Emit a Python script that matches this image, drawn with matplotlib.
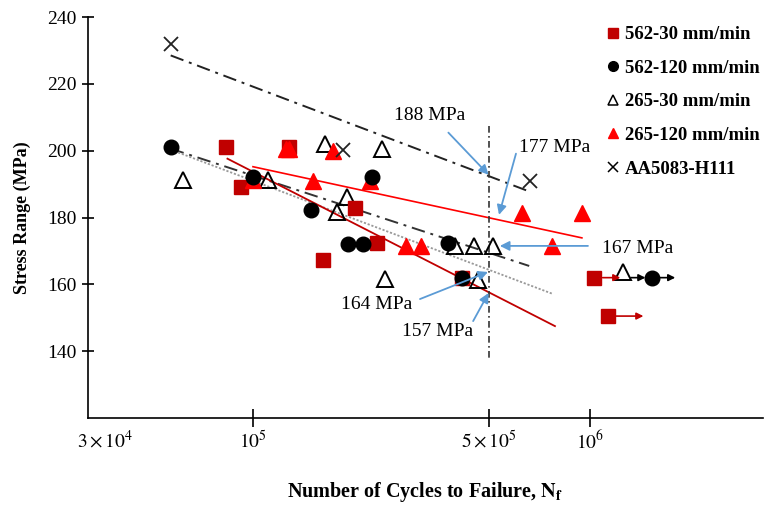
import matplotlib
matplotlib.use("Agg")
import matplotlib.pyplot as plt
import matplotlib.transforms as mtransforms
from matplotlib.lines import Line2D

plt.rcParams['font.family'] = ['Liberation Serif', 'DejaVu Serif']
plt.rcParams['mathtext.fontset'] = 'stix'

# --- data (cycles, stress range MPa) ---
n_562_30 = [8.3e4, 9.2e4, 1.28e5, 1.61e5, 2.01e5, 2.33e5, 4.17e5]
s_562_30 = [201, 189, 201, 167.3, 182.7, 172.4, 162]
n_562_120 = [5.7e4, 1.0e5, 1.49e5, 1.91e5, 2.12e5, 2.26e5, 3.8e5, 4.17e5]
s_562_120 = [201, 192.2, 182.3, 172.2, 172.2, 192, 172.4, 162]
n_265_30 = [6.2e4, 1.11e5, 1.64e5, 1.77e5, 1.9e5, 2.42e5, 2.46e5, 3.97e5, 4.53e5, 5.15e5, 4.66e5]
s_265_30 = [191.3, 191.3, 202, 181.5, 186, 200.6, 161.6, 171.5, 171.5, 171.5, 161.3]
n_265_120 = [1.0e5, 1.25e5, 1.28e5, 1.51e5, 1.73e5, 2.22e5, 2.84e5, 3.15e5, 6.28e5, 7.7e5, 9.46e5]
s_265_120 = [191.3, 200.4, 200.4, 191, 200, 191, 171.5, 171.5, 181.4, 171.5, 181.4]
n_aa = [5.7e4, 1.85e5, 6.64e5]
s_aa = [232, 200.3, 191]

# run-outs: start cycles, stress, arrow end cycles
ro_562_30_n = [1.03e6, 1.13e6]
ro_562_30_s = [162, 150.5]
ro_562_30_end = [1.23e6, 1.44e6]
ro_265_30_n = [1.25e6]
ro_265_30_s = [163.8]
ro_265_30_end = [1.46e6]
ro_562_120_n = [1.53e6]
ro_562_120_s = [162]
ro_562_120_end = [1.79e6]

# trend lines (end points)
fit_aa_n, fit_aa_s = [5.7e4, 6.6e5], [228.5, 187.8]
fit_562_120_n, fit_562_120_s = [5.7e4, 6.6e5], [200.6, 165.5]
fit_265_30_n, fit_265_30_s = [5.7e4, 7.77e5], [200.3, 157.1]
fit_562_30_n, fit_562_30_s = [8.4e4, 7.87e5], [197.6, 147.5]
fit_265_120_n, fit_265_120_s = [1.0e5, 9.46e5], [195.2, 173.9]

DARKRED = '#C00000'
RED = '#FF0000'
BLUE = '#5B9BD5'

fig = plt.figure(figsize=(7.72, 5.07), dpi=100)
ax = fig.add_axes([88 / 772, 89 / 507, 675 / 772, 401 / 507])
ax.set_xscale('log')
ax.set_xlim(3.24e4, 3.26e6)
ax.set_ylim(120, 240)

# trend lines
ax.plot(fit_aa_n, fit_aa_s, color='#222222', lw=1.4, ls=(0, (7, 3, 1.5, 3)))
ax.plot(fit_562_120_n, fit_562_120_s, color='#333333', lw=1.4, ls=(0, (7, 3, 1.5, 3)))
ax.plot(fit_265_30_n, fit_265_30_s, color='#999999', lw=1.3, ls=(0, (1.2, 1)))
ax.plot(fit_562_30_n, fit_562_30_s, color=DARKRED, lw=1.3)
ax.plot(fit_265_120_n, fit_265_120_s, color=RED, lw=1.2)
ax.plot([5e5, 5e5], [207.5, 138], color='#333333', lw=1.2, ls=(0, (4, 2, 1, 2)))

# points
ax.plot(n_265_30, s_265_30, ls='none', marker='^', ms=12, mfc='none', mec='black', mew=1.4)
ax.plot(n_562_30, s_562_30, ls='none', marker='s', ms=10, color=DARKRED)
ax.plot(n_265_120, s_265_120, ls='none', marker='^', ms=12, color=RED)
ax.plot(n_562_120, s_562_120, ls='none', marker='o', ms=10.5, color='black')
ax.plot(n_aa, s_aa, ls='none', marker='x', ms=10, mec='#222222', mew=1.3)

# run-outs
for n, s, e in zip(ro_562_30_n, ro_562_30_s, ro_562_30_end):
    ax.annotate('', xy=(e, s), xytext=(n, s),
                arrowprops=dict(arrowstyle='-|>', color=DARKRED, lw=1.2, shrinkA=6, shrinkB=0))
    ax.plot(n, s, marker='s', ms=10, color=DARKRED)
for n, s, e in zip(ro_265_30_n, ro_265_30_s, ro_265_30_end):
    ax.annotate('', xy=(e, 162), xytext=(n, 162),
                arrowprops=dict(arrowstyle='-|>', color='black', lw=1.2, shrinkA=6, shrinkB=0))
    ax.plot(n, s, marker='^', ms=12, mfc='none', mec='black', mew=1.4)
for n, s, e in zip(ro_562_120_n, ro_562_120_s, ro_562_120_end):
    ax.annotate('', xy=(e, s), xytext=(n, s),
                arrowprops=dict(arrowstyle='-|>', color='black', lw=1.2, shrinkA=6, shrinkB=0))
    ax.plot(n, s, marker='o', ms=10.5, color='black')

# blue call-outs
notes = [
    ('188 MPa', (3.35e5, 210.5), (3.8e5, 205.4), (5.0e5, 192.8)),
    ('177 MPa', (7.87e5, 200.9), (6.03e5, 199.1), (5.37e5, 180.8)),
    ('167 MPa', (1.38e6, 170.6), (9.86e5, 171.5), (5.4e5, 171.5)),
    ('164 MPa', (2.32e5, 154.1), (3.13e5, 155.6), (4.98e5, 163.7)),
    ('157 MPa', (3.52e5, 146.0), (4.5e5, 149.0), (5.0e5, 157.4)),
]
for txt, tpos, a0, a1 in notes:
    ax.text(tpos[0], tpos[1], txt, fontsize=14, ha='center', va='center')
    ax.annotate('', xy=a1, xytext=a0,
                arrowprops=dict(arrowstyle='-|>', color=BLUE, lw=1.3, shrinkA=0, shrinkB=0,
                                mutation_scale=14))

# axes styling
for side in ['top', 'right']:
    ax.spines[side].set_visible(False)
ax.spines['left'].set_linewidth(1.2)
ax.spines['bottom'].set_linewidth(1.2)
ax.set_yticks([140, 160, 180, 200, 220, 240])
ax.set_xticks([3.24e4, 1e5, 5e5, 1e6])
ax.set_xticklabels([r'$3\times10^{4}$', r'$10^{5}$', r'$5\times10^{5}$', r'$10^{6}$'])
ax.minorticks_off()
ax.tick_params(axis='y', direction='inout', length=8, width=1.2, labelsize=14, pad=4)
ax.tick_params(axis='x', direction='inout', length=13, width=1.2, labelsize=14, pad=2)
lab0 = ax.get_xticklabels()[0]
lab0.set_transform(lab0.get_transform() + mtransforms.ScaledTranslation(0.17, 0, fig.dpi_scale_trans))
ax.get_xaxis().get_major_ticks()[0].tick1line.set_visible(False)

ax.set_ylabel('Stress Range (MPa)', fontsize=13, fontweight='bold', labelpad=12)
ax.set_xlabel(r'Number of Cycles to Failure, $\mathbf{N_f}$', fontsize=14.5, fontweight='bold', labelpad=20)

handles = [
    Line2D([], [], ls='none', marker='s', ms=7, color=DARKRED),
    Line2D([], [], ls='none', marker='o', ms=7, color='black'),
    Line2D([], [], ls='none', marker='^', ms=7, mfc='none', mec='black', mew=1.1),
    Line2D([], [], ls='none', marker='^', ms=7, color=RED),
    Line2D([], [], ls='none', marker='x', ms=7, mec='black', mew=1.1),
]
labels = ['562-30 mm/min', '562-120 mm/min', '265-30 mm/min', '265-120 mm/min', 'AA5083-H111']
fig.legend(handles, labels, loc='upper left', bbox_to_anchor=(606 / 772, 1 - 26 / 507),
           frameon=False, prop={'weight': 'bold', 'size': 13.5}, handlelength=0.7,
           handletextpad=0.3, labelspacing=0.88, borderpad=0, borderaxespad=0)

fig.savefig('out.png', dpi=100)
